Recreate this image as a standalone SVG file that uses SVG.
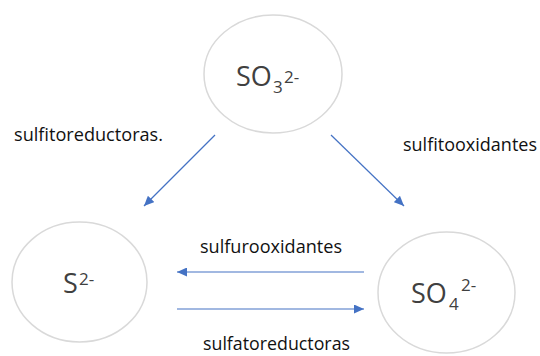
<svg xmlns="http://www.w3.org/2000/svg" width="540" height="356" viewBox="0 0 540 356">
<style>
.node{fill:#ffffff;stroke:#d9d9d9;stroke-width:1.5}
.big{font-family:"Open Sans","Liberation Sans",sans-serif;font-size:27px;fill:#404040}
.sm{font-family:"Open Sans","Liberation Sans",sans-serif;font-size:17px;fill:#404040}
.lbl{font-family:"Open Sans","Liberation Sans",sans-serif;font-size:18px;fill:#111111}
.conn{stroke:#4472c4;stroke-width:1.2;fill:none;marker-end:url(#arr)}
</style>
<defs>
<marker id="arr" markerUnits="userSpaceOnUse" markerWidth="11" markerHeight="9" refX="10" refY="4.5" orient="auto">
<path d="M0,0 L10,4.5 L0,9 z" fill="#4472c4"/>
</marker>
</defs>
<rect width="540" height="356" fill="#ffffff"/>
<g id="so3">
<ellipse class="node" cx="273" cy="74" rx="69" ry="59"/>
<text class="big" x="236" y="86">SO</text>
<text class="sm" x="273" y="93">3</text>
<text class="sm" x="284" y="83">2-</text>
</g>
<g id="s2">
<ellipse class="node" cx="79.5" cy="282" rx="67.5" ry="60"/>
<text class="big" x="63" y="293">S</text>
<text class="sm" x="79" y="285">2-</text>
</g>
<g id="so4">
<ellipse class="node" cx="446.5" cy="292.5" rx="68.5" ry="60.5"/>
<text class="big" x="411" y="303">SO</text>
<text class="sm" x="449" y="310">4</text>
<text class="sm" x="461" y="291">2-</text>
</g>
<g id="connectors">
<line class="conn" x1="215" y1="135" x2="144" y2="206"/>
<line class="conn" x1="331" y1="135" x2="404" y2="206"/>
<line class="conn" x1="364" y1="272" x2="177" y2="272"/>
<line class="conn" x1="177" y1="309" x2="364" y2="309"/>
</g>
<g id="labels">
<text class="lbl" x="14" y="141" textLength="149" lengthAdjust="spacingAndGlyphs">sulfitoreductoras.</text>
<text class="lbl" x="403" y="151" textLength="134" lengthAdjust="spacingAndGlyphs">sulfitooxidantes</text>
<text class="lbl" x="200" y="253" textLength="142" lengthAdjust="spacingAndGlyphs">sulfurooxidantes</text>
<text class="lbl" x="203" y="350" textLength="147" lengthAdjust="spacingAndGlyphs">sulfatoreductoras</text>
</g>
</svg>
